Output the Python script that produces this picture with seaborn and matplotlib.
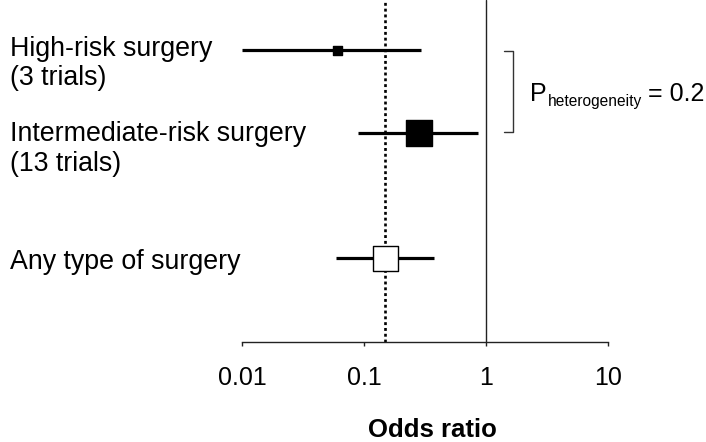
import matplotlib
matplotlib.use("Agg")
import matplotlib.pyplot as plt
import matplotlib.transforms as mtrans
import seaborn as sns
import pandas as pd

# ---- data ----
groups = ["High-risk surgery", "Intermediate-risk surgery", "Any type of surgery"]
subtitles = ["(3 trials)", "(13 trials)", ""]
odds_ratio = [0.06, 0.28, 0.147]
ci_low = [0.0100, 0.088, 0.059]
ci_high = [0.29, 0.86, 0.37]
pooled_or = 0.147
tick_values = [0.01, 0.1, 1, 10]
tick_labels = ["0.01", "0.1", "1", "10"]
het_main = "P"
het_label = "heterogeneity"
het_value = "= 0.2"

# ---- layout / style ----
row_y = [49.7, 132.7, 258.0]          # rows in pixel-like units (top = 0)
marker_px = [9, 26, 25]
face_cols = ["black", "black", "white"]

sns.set_style("white")
plt.rcParams["font.family"] = ["Liberation Sans", "DejaVu Sans"]
plt.rcParams["text.color"] = "black"
plt.rcParams["xtick.color"] = "black"
plt.rcParams["axes.labelcolor"] = "black"

W, H = 706, 442
fig = plt.figure(figsize=(W / 100, H / 100), dpi=100)
x0, x1, ybot = 242.3, 608.3, 342.0
ax = fig.add_axes([x0 / W, 1 - ybot / H, (x1 - x0) / W, ybot / H])
ax.set_xscale("log")
ax.set_xlim(0.01, 10)
ax.set_ylim(ybot, 0)

# reference lines
ax.axvline(1, color="#222222", lw=1.0, zorder=1)
ax.axvline(pooled_or, color="black", lw=1.9, ls=(0, (1.1, 1.1)), zorder=1)

# CIs and points
for i in range(len(groups)):
    ax.hlines(row_y[i], ci_low[i], ci_high[i], color="black", lw=2.3, zorder=2)
    df = pd.DataFrame({"or": [odds_ratio[i]], "y": [row_y[i]]})
    s_pt = marker_px[i] * 0.72
    sns.scatterplot(data=df, x="or", y="y", ax=ax, marker="s", s=s_pt ** 2,
                    color=face_cols[i], edgecolor="black", linewidth=1.0,
                    zorder=3, legend=False)

# axes styling
for side in ["top", "left", "right"]:
    ax.spines[side].set_visible(False)
ax.spines["bottom"].set_color("#222222")
ax.spines["bottom"].set_linewidth(1.0)
ax.set_yticks([])
ax.set_xticks(tick_values)
ax.set_xticklabels(tick_labels)
ax.minorticks_off()
ax.tick_params(axis="x", direction="out", length=3, width=1.0, color="#222222",
               labelsize=18, pad=14, bottom=True, labelcolor="black")
ax.set_xlabel("Odds ratio", fontsize=18.5, fontweight="bold", color="black")
ax.xaxis.set_label_coords((432.7 - x0) / (x1 - x0), -0.221)
ax.set_ylabel("")

# row labels
tr = mtrans.blended_transform_factory(fig.transFigure, ax.transData)
label_base = [56.0, 140.7, 269.0]
sub_base = [85.0, 170.7, None]
for i in range(len(groups)):
    ax.text(10 / W, label_base[i], groups[i], transform=tr, fontsize=19.3,
            va="baseline", ha="left", color="black")
    if subtitles[i]:
        ax.text(10 / W, sub_base[i], subtitles[i], transform=tr, fontsize=19.3,
                va="baseline", ha="left", color="black")

# heterogeneity bracket
trp = mtrans.blended_transform_factory(
    mtrans.Affine2D().scale(1 / W, 1) + fig.transFigure, ax.transData)
bx, bl, bt, bb = 513.3, 504.0, 51.0, 131.7
ax.plot([bl, bx, bx, bl], [bt, bt, bb, bb], color="#333333", lw=1.0,
        transform=trp, clip_on=False)
ax.text(530.5, 101.0, het_main, transform=trp, fontsize=18,
        va="baseline", ha="left", color="black")
ax.text(547.5, 106.0, het_label, transform=trp, fontsize=11.2,
        va="baseline", ha="left", color="black")
ax.text(647.5, 101.0, het_value, transform=trp, fontsize=18,
        va="baseline", ha="left", color="black")

fig.savefig("out.png", dpi=100)
